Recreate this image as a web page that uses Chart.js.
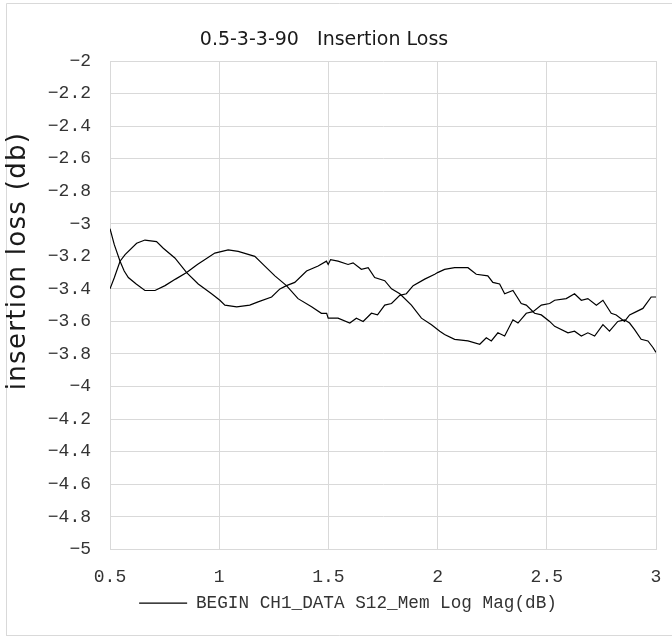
<!DOCTYPE html>
<html>
<head>
<meta charset="utf-8">
<script src="https://cdn.jsdelivr.net/npm/chart.js@4/dist/chart.umd.min.js"></script>
<style>
  html, body { margin: 0; padding: 0; background: #ffffff; }
  canvas { display: block; }
</style>
</head>
<body>
<canvas id="c" width="672" height="637"></canvas>
<script>
// ---- text ----
const chartTitle = '0.5-3-3-90   Insertion Loss';
const yAxisTitle = 'insertion loss (db)';
const seriesName = 'BEGIN CH1_DATA S12_Mem Log Mag(dB)';

// ---- tick values ----
const xTickValues = [0.5, 1, 1.5, 2, 2.5, 3];
const yTickValues = [-2, -2.2, -2.4, -2.6, -2.8, -3, -3.2, -3.4, -3.6, -3.8, -4, -4.2, -4.4, -4.6, -4.8, -5];

// ---- trace A (starts near -3.0) ----
const freqA = [0.500, 0.520, 0.546, 0.565, 0.584, 0.620, 0.660, 0.706, 0.752, 0.800,
  0.851, 0.900, 0.935, 0.980, 1.041, 1.087, 1.163, 1.209, 1.255, 1.308,
  1.361, 1.423, 1.468, 1.492, 1.499, 1.544, 1.598, 1.628, 1.659, 1.697,
  1.725, 1.758, 1.789, 1.827, 1.857, 1.888, 1.941, 1.987, 2.000, 2.032,
  2.078, 2.139, 2.177, 2.230, 2.253, 2.284, 2.307, 2.345, 2.383, 2.406,
  2.444, 2.475, 2.513, 2.536, 2.597, 2.627, 2.658, 2.688, 2.719, 2.757,
  2.787, 2.825, 2.856, 2.879, 2.902, 2.932, 2.963, 2.986, 3.000];
const lossA = [-3.03, -3.13, -3.23, -3.29, -3.33, -3.37, -3.41, -3.41, -3.38, -3.34,
  -3.30, -3.25, -3.22, -3.18, -3.16, -3.17, -3.20, -3.26, -3.32, -3.38,
  -3.46, -3.51, -3.55, -3.55, -3.58, -3.58, -3.61, -3.58, -3.60, -3.55,
  -3.56, -3.50, -3.49, -3.44, -3.43, -3.38, -3.34, -3.31, -3.30, -3.28,
  -3.27, -3.27, -3.31, -3.32, -3.36, -3.37, -3.43, -3.41, -3.49, -3.50,
  -3.55, -3.56, -3.60, -3.63, -3.67, -3.66, -3.69, -3.67, -3.69, -3.62,
  -3.66, -3.60, -3.59, -3.61, -3.65, -3.71, -3.72, -3.76, -3.79];

// ---- trace B (starts near -3.4) ----
const freqB = [0.500, 0.520, 0.546, 0.569, 0.622, 0.660, 0.713, 0.744, 0.797, 0.851,
  0.904, 0.965, 1.003, 1.026, 1.080, 1.140, 1.178, 1.240, 1.278, 1.308,
  1.346, 1.400, 1.453, 1.491, 1.499, 1.510, 1.544, 1.590, 1.613, 1.651,
  1.682, 1.712, 1.758, 1.789, 1.827, 1.880, 1.926, 1.972, 2.010, 2.032,
  2.078, 2.139, 2.193, 2.223, 2.246, 2.276, 2.307, 2.345, 2.368, 2.406,
  2.437, 2.475, 2.513, 2.536, 2.589, 2.627, 2.658, 2.688, 2.727, 2.757,
  2.795, 2.818, 2.856, 2.879, 2.910, 2.940, 2.978, 3.000];
const lossB = [-3.40, -3.33, -3.23, -3.19, -3.12, -3.10, -3.11, -3.15, -3.21, -3.30,
  -3.37, -3.43, -3.47, -3.50, -3.51, -3.50, -3.48, -3.45, -3.40, -3.38,
  -3.36, -3.29, -3.26, -3.23, -3.25, -3.22, -3.23, -3.25, -3.24, -3.28,
  -3.27, -3.33, -3.35, -3.40, -3.43, -3.50, -3.58, -3.62, -3.66, -3.68,
  -3.71, -3.72, -3.74, -3.70, -3.72, -3.67, -3.69, -3.59, -3.61, -3.55,
  -3.54, -3.50, -3.49, -3.47, -3.46, -3.43, -3.47, -3.46, -3.50, -3.47,
  -3.55, -3.56, -3.60, -3.56, -3.54, -3.52, -3.45, -3.45];

const toPoints = (xs, ys) => xs.map((x, i) => ({ x: x, y: ys[i] }));

const monoFamily = '"Liberation Mono", "DejaVu Sans Mono", monospace';
const gridColor = '#d9d9d9';

const decorPlugin = {
  id: 'decor',
  beforeDraw(chart) {
    const ctx = chart.ctx;
    ctx.save();
    ctx.fillStyle = '#ffffff';
    ctx.fillRect(0, 0, chart.width, chart.height);
    ctx.strokeStyle = '#d9d9d9';
    ctx.lineWidth = 1;
    ctx.beginPath();
    ctx.moveTo(6.5, 636); ctx.lineTo(6.5, 3.5); ctx.lineTo(672, 3.5);
    ctx.moveTo(6.5, 635.5); ctx.lineTo(672, 635.5);
    ctx.stroke();
    ctx.restore();
  },
  afterDraw(chart) {
    const ctx = chart.ctx;
    ctx.save();
    ctx.fillStyle = '#1a1a1a';
    ctx.textAlign = 'center';
    ctx.textBaseline = 'middle';
    ctx.font = '19px "DejaVu Sans", sans-serif';
    ctx.fillText(chartTitle, 324, 40);
    ctx.translate(18, 261);
    ctx.rotate(-Math.PI / 2);
    ctx.font = '26px "DejaVu Sans", sans-serif';
    try { ctx.letterSpacing = '1.3px'; } catch (e) {}
    ctx.fillText(yAxisTitle, 0, 0);
    ctx.restore();
  }
};

new Chart(document.getElementById('c'), {
  type: 'line',
  data: {
    datasets: [
      {
        label: seriesName,
        data: toPoints(freqA, lossA),
        borderColor: '#000000',
        backgroundColor: '#000000',
        borderWidth: 1.2,
        pointRadius: 0,
        tension: 0,
        fill: false
      },
      {
        label: seriesName + ' (2)',
        data: toPoints(freqB, lossB),
        borderColor: '#000000',
        backgroundColor: '#000000',
        borderWidth: 1.2,
        pointRadius: 0,
        tension: 0,
        fill: false
      }
    ]
  },
  options: {
    responsive: false,
    devicePixelRatio: 1,
    animation: false,
    layout: { padding: { top: 61, left: 40, right: 16, bottom: 15 } },
    plugins: {
      title: { display: false },
      tooltip: { enabled: false },
      legend: {
        display: true,
        position: 'bottom',
        labels: {
          filter: (item) => item.datasetIndex === 0,
          usePointStyle: true,
          pointStyle: 'line',
          pointStyleWidth: 48,
          padding: 0,
          color: '#333333',
          font: { family: monoFamily, size: 17.7 }
        }
      }
    },
    scales: {
      x: {
        type: 'linear',
        min: 0.5,
        max: 3,
        afterBuildTicks: (scale) => { scale.ticks = xTickValues.map(v => ({ value: v })); },
        afterFit: (scale) => { scale.height = 45; },
        ticks: {
          color: '#333333',
          font: { family: monoFamily, size: 18, lineHeight: 56 / 18 },
          padding: 0,
          maxRotation: 0,
          callback: (v) => String(v)
        },
        grid: { color: gridColor, lineWidth: 1, drawTicks: false },
        border: { color: gridColor, width: 1 }
      },
      y: {
        type: 'linear',
        min: -5,
        max: -2,
        afterBuildTicks: (scale) => { scale.ticks = yTickValues.map(v => ({ value: v })); },
        afterFit: (scale) => { scale.width = 70; },
        ticks: {
          color: '#333333',
          font: { family: monoFamily, size: 18 },
          padding: 19,
          callback: (v) => String(Math.round(v * 10) / 10).replace('-', '\u2212')
        },
        grid: { color: gridColor, lineWidth: 1, drawTicks: false },
        border: { color: gridColor, width: 1 }
      }
    }
  },
  plugins: [decorPlugin]
});
</script>
</body>
</html>
